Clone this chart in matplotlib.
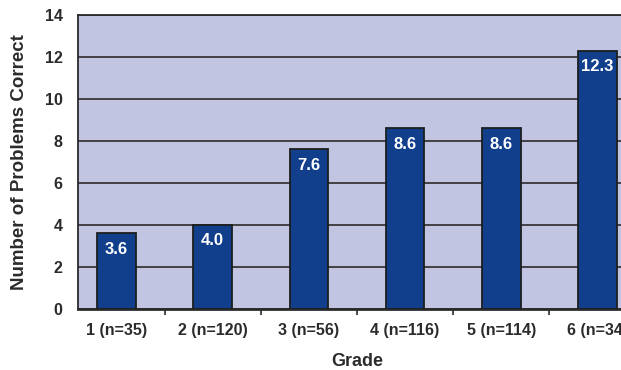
import numpy as np
import matplotlib
matplotlib.use('Agg')
import matplotlib.pyplot as plt

grades = ['1 (n=35)', '2 (n=120)', '3 (n=56)', '4 (n=116)', '5 (n=114)', '6 (n=34)']
correct = [3.6, 4.0, 7.6, 8.6, 8.6, 12.3]
yticks = [0, 2, 4, 6, 8, 10, 12, 14]

BG = '#c2c5e2'
BAR = '#123f8c'
INK = '#2b2b2b'

plt.rcParams['font.family'] = ['Liberation Sans', 'DejaVu Sans']

fig = plt.figure(figsize=(6.21, 3.70), dpi=100)
# axes run past the right edge of the figure, so the last category gets clipped
ax = fig.add_axes([0.1256, 0.165, 0.8985, 0.7945])
ax.set_facecolor(BG)

x = np.arange(len(grades))
ax.set_axisbelow(True)
ax.yaxis.grid(True, color=INK, linewidth=1.2)
bars = ax.bar(x, correct, width=0.4, color=BAR, edgecolor='#1e1e1e', linewidth=1.3, zorder=3)

for xi, v in zip(x, correct):
    ax.annotate(f'{v:.1f}', (xi, v), xytext=(0, -6), textcoords='offset points',
                ha='center', va='top', color='white', fontsize=12, fontweight='bold',
                family=['Liberation Sans Narrow', 'Liberation Sans', 'DejaVu Sans'], zorder=4)

ax.set_xlim(-0.4, 5.4)
ax.set_ylim(0, 14)
ax.set_yticks(yticks)
ax.set_xticks(x)
ax.set_xticklabels(grades)
ax.set_xticks(x[:-1] + 0.5, minor=True)
ax.tick_params(axis='x', which='major', length=0, pad=10, labelsize=11.5, labelcolor=INK)
ax.tick_params(axis='x', which='minor', length=4, width=1.2, color=INK)
ax.tick_params(axis='y', length=0, pad=11, labelsize=11.5, labelcolor=INK)
for lab in ax.get_xticklabels() + ax.get_yticklabels():
    lab.set_fontweight('bold')

for s in ax.spines.values():
    s.set_color(INK)
    s.set_linewidth(1.3)
ax.spines['bottom'].set_linewidth(2)

ax.set_ylabel('Number of Problems Correct', fontsize=13.5, fontweight='bold', color=INK)
ax.yaxis.set_label_coords(-0.09, 0.5)
ax.set_xlabel('Grade', fontsize=13, fontweight='bold', color=INK)
ax.xaxis.set_label_coords(0.5, -0.15)

fig.savefig('out.png', dpi=100, facecolor='white')
